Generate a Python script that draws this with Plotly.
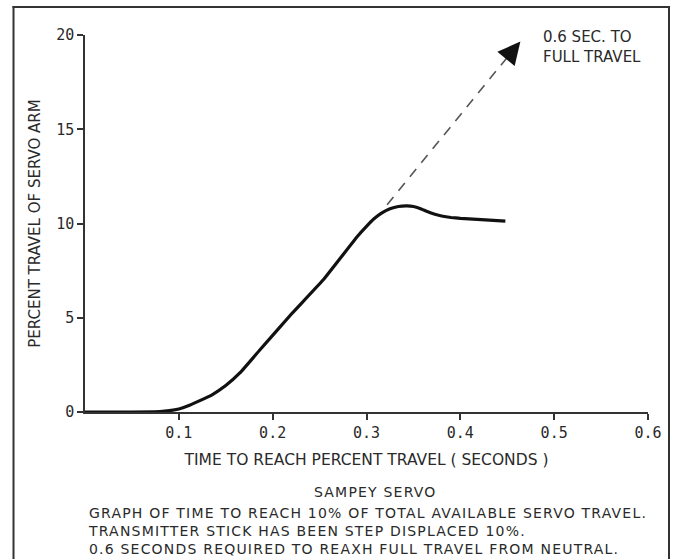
import plotly.graph_objects as go

# ---- data ----
time_s = [0.0, 0.05, 0.08, 0.09, 0.10, 0.11, 0.12, 0.135, 0.15, 0.165, 0.1865, 0.22, 0.2537,
          0.29, 0.300, 0.308, 0.316, 0.325, 0.334, 0.343, 0.350, 0.357, 0.364, 0.372,
          0.380, 0.390, 0.400, 0.418, 0.448]
travel_pct = [0.0, 0.0, 0.02, 0.07, 0.16, 0.33, 0.55, 0.9, 1.4, 2.07, 3.3, 5.2, 7.0,
              9.3, 9.85, 10.25, 10.55, 10.78, 10.9, 10.93, 10.9, 10.8, 10.65, 10.5,
              10.4, 10.32, 10.27, 10.22, 10.13]
extrap_time = [0.322, 0.458]
extrap_pct = [11.0, 19.3]
arrow_tip = (0.464, 19.65)
x_ticks = [0.1, 0.2, 0.3, 0.4, 0.5, 0.6]
x_ticktext = ["0.1", "0.2", "0.3", "0.4", "0.5", "0.6"]
y_ticks = [0, 5, 10, 15, 20]
note_lines = ["GRAPH OF TIME TO REACH 10% OF TOTAL AVAILABLE SERVO TRAVEL.",
              "TRANSMITTER STICK HAS BEEN STEP DISPLACED 10%.",
              "0.6 SECONDS REQUIRED TO REAXH FULL TRAVEL FROM NEUTRAL."]

W, H = 677, 559
ML, MR, MT, MB = 85, 29, 35, 147
PW, PH = W - ML - MR, H - MT - MB

def px(x):
    return (x - ML) / PW

def py(y):
    return (H - MB - y) / PH

def spaced(s, ls="1.2px"):
    return '<span style="letter-spacing:%s">%s</span>' % (ls, s)

TXT = "#2a2a2a"
SANS = "DejaVu Sans, sans-serif"
MONO = "DejaVu Sans Mono, monospace"

fig = go.Figure()
fig.add_trace(go.Scatter(x=time_s, y=travel_pct, mode="lines",
                         line=dict(color="#111111", width=3.2, shape="spline", smoothing=0.3),
                         showlegend=False, hoverinfo="skip"))
fig.add_trace(go.Scatter(x=extrap_time, y=extrap_pct, mode="lines",
                         line=dict(color="#555555", width=1.6, dash="10px,8px"),
                         showlegend=False, hoverinfo="skip"))

fig.add_annotation(x=arrow_tip[0], y=arrow_tip[1], ax=extrap_time[1] - 0.004, ay=extrap_pct[1] - 0.25,
                   xref="x", yref="y", axref="x", ayref="y", text="",
                   showarrow=True, arrowhead=2, arrowsize=1.8, arrowwidth=2.5, arrowcolor="#111111")

fig.add_annotation(x=px(541), y=py(47), xref="paper", yref="paper", xanchor="left", yanchor="middle",
                   text="0.6 SEC. TO<br>FULL TRAVEL", showarrow=False, align="left",
                   font=dict(family=SANS, size=15, color=TXT))

fig.add_annotation(x=px(375), y=py(492), xref="paper", yref="paper", xanchor="center", yanchor="middle",
                   text=spaced("SAMPEY SERVO"), showarrow=False,
                   font=dict(family=SANS, size=14, color=TXT))
fig.add_annotation(x=px(86), y=py(531), xref="paper", yref="paper", xanchor="left", yanchor="middle",
                   text="<br>".join(spaced(t) for t in note_lines), showarrow=False, align="left",
                   font=dict(family=SANS, size=14, color=TXT))

# outer frame (filled thin rects)
FC = "#333333"
NL = dict(width=0)
fig.add_shape(type="rect", xref="paper", yref="paper", x0=px(12.5), x1=px(14.5), y0=py(6), y1=py(580),
              fillcolor=FC, line=NL, layer="above")
fig.add_shape(type="rect", xref="paper", yref="paper", x0=px(668), x1=px(670), y0=py(6), y1=py(580),
              fillcolor=FC, line=NL, layer="above")
fig.add_shape(type="rect", xref="paper", yref="paper", x0=px(12.5), x1=px(670), y0=py(8), y1=py(6),
              fillcolor=FC, line=NL, layer="above")

fig.update_layout(
    width=W, height=H,
    margin=dict(l=ML, r=MR, t=MT, b=MB, autoexpand=False),
    paper_bgcolor="white", plot_bgcolor="white",
    xaxis=dict(range=[0, 0.6], tickvals=x_ticks, ticktext=x_ticktext,
               showgrid=False, zeroline=False, showline=True, linecolor="#333333", linewidth=1.5,
               ticks="outside", ticklen=6, tickcolor="#333333", tickwidth=1.5,
               tickfont=dict(family=MONO, size=15, color=TXT),
               title=dict(text="TIME TO REACH PERCENT TRAVEL ( SECONDS )",
                          font=dict(family=SANS, size=15.5, color=TXT), standoff=13)),
    yaxis=dict(range=[0, 20], tickvals=y_ticks,
               showgrid=False, zeroline=False, showline=True, linecolor="#333333", linewidth=1.5,
               ticks="outside", ticklen=6, tickcolor="#333333", tickwidth=1.5,
               tickfont=dict(family=MONO, size=15, color=TXT),
               title=dict(text="PERCENT TRAVEL OF SERVO ARM",
                          font=dict(family=SANS, size=15, color=TXT), standoff=12)),
)

fig.write_html("out.html", config={"displayModeBar": False},
               post_script="document.body.style.margin='0';document.body.style.overflow='hidden';")
